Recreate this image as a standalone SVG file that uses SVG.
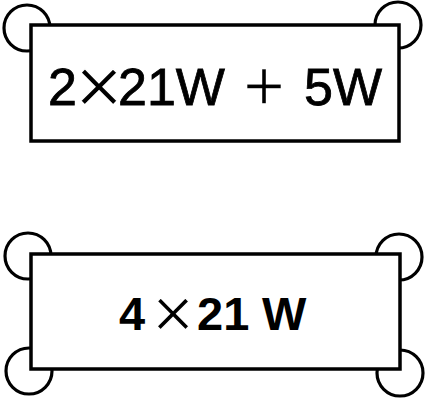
<svg xmlns="http://www.w3.org/2000/svg" width="431" height="400" viewBox="0 0 431 400">
<style>
.box{fill:#fff;stroke:#000;stroke-width:3.5}
.pin{fill:none;stroke:#000;stroke-width:3.2}
.t{font-family:"Liberation Sans",Arial,sans-serif;font-size:52px;fill:#000;stroke:#000;stroke-width:0.8}
.tb{font-family:"Liberation Sans",Arial,sans-serif;font-size:47px;font-weight:bold;fill:#000}
.sym{font-weight:normal;stroke:#fff;stroke-width:1.5}
</style>
<rect width="431" height="400" fill="#fff"/>
<g id="connectors">
<circle class="pin" cx="27" cy="28" r="23"/>
<circle class="pin" cx="398" cy="25" r="23"/>
<circle class="pin" cx="28" cy="256" r="23"/>
<circle class="pin" cx="399" cy="257" r="23"/>
<circle class="pin" cx="29" cy="371" r="23"/>
<circle class="pin" cx="400" cy="373" r="23"/>
</g>
<g id="node-top">
<rect class="box" x="31" y="25" width="368" height="116"/>
<text class="t"><tspan x="48" y="105">2</tspan><tspan class="sym" x="75" y="114" font-size="82">×</tspan><tspan x="118" y="105">21W</tspan><tspan class="sym" x="243" y="110" font-size="72">+</tspan><tspan x="304" y="105">5W</tspan></text>
</g>
<g id="node-bottom">
<rect class="box" x="31" y="254" width="369" height="115"/>
<text class="tb"><tspan x="119" y="330">4</tspan><tspan class="sym" x="152" y="338" font-size="72">×</tspan><tspan x="197" y="330">21</tspan><tspan x="262" y="330">W</tspan></text>
</g>
</svg>
